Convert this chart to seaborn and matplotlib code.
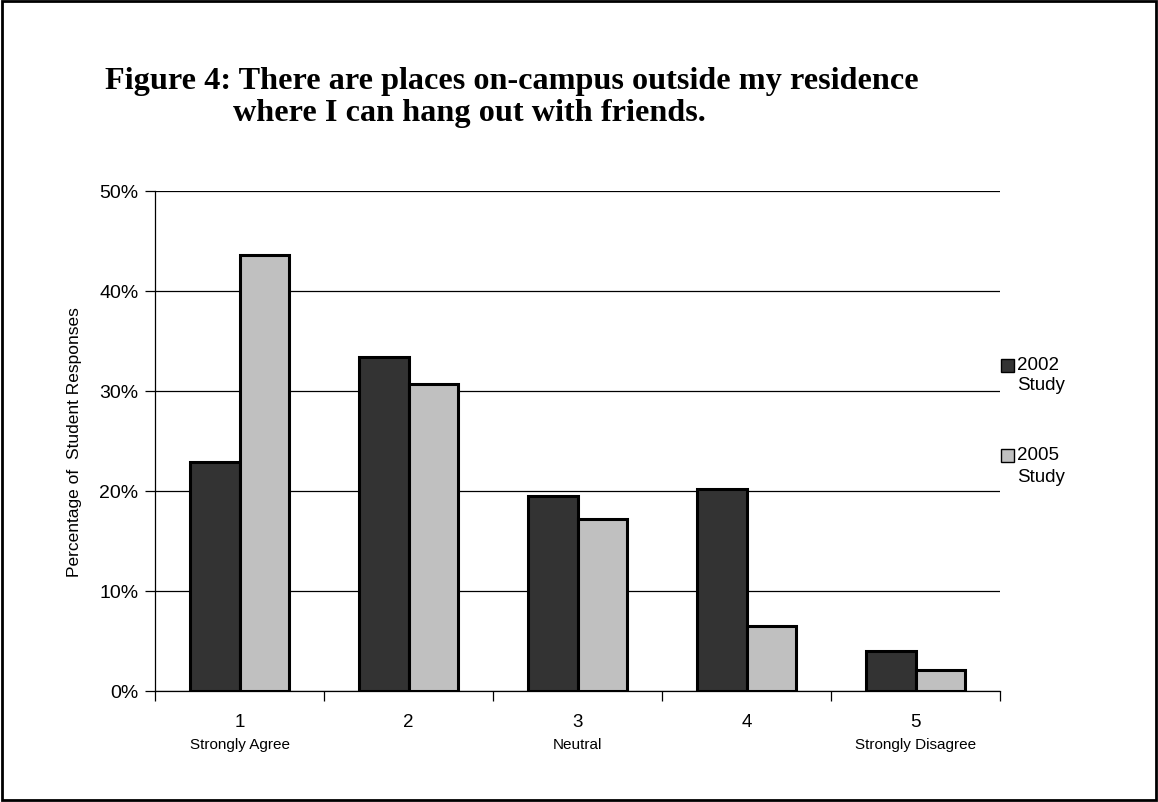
import pandas as pd
import seaborn as sns
import matplotlib.pyplot as plt
from matplotlib.patches import Rectangle
from matplotlib.ticker import FixedLocator, PercentFormatter
import matplotlib.transforms as mtransforms

# Survey data (percent of student responses)
ratings = ['1', '2', '3', '4', '5']
rating_notes = ['Strongly Agree', '', 'Neutral', '', 'Strongly Disagree']
study_2002 = [22.9, 33.4, 19.5, 20.2, 4.0]
study_2005 = [43.6, 30.7, 17.2, 6.5, 2.1]
studies = ['2002', '2005']
study_colors = {'2002': '#333333', '2005': '#c0c0c0'}
y_ticks = [0, 10, 20, 30, 40, 50]

df = pd.DataFrame({
    'Rating': ratings * 2,
    'Study': ['2002'] * len(ratings) + ['2005'] * len(ratings),
    'Percent': study_2002 + study_2005,
})

sns.set_style('white')
plt.rcParams['font.family'] = ['Liberation Sans', 'DejaVu Sans']
for key in ['text.color', 'axes.labelcolor', 'xtick.color', 'ytick.color']:
    plt.rcParams[key] = 'black'

fig = plt.figure(figsize=(11.58, 8.03), dpi=100)
ax = fig.add_axes([155 / 1158, 1 - 692 / 803, 845 / 1158, 500 / 803])

sns.barplot(data=df, x='Rating', y='Percent', hue='Study', hue_order=studies,
            palette=study_colors, width=0.585, edgecolor='black', linewidth=2.2,
            saturation=1, legend=False, ax=ax, zorder=3)

ax.set_ylim(0, 50)
ax.set_xlim(-0.5, len(ratings) - 0.5)
ax.yaxis.set_major_locator(FixedLocator(y_ticks))
ax.yaxis.set_major_formatter(PercentFormatter(decimals=0))
ax.grid(axis='y', color='black', linewidth=0.9, zorder=0)
ax.grid(axis='x', visible=False)

for side in ['top', 'right']:
    ax.spines[side].set_visible(False)
for side in ['left', 'bottom']:
    ax.spines[side].set_color('black')
    ax.spines[side].set_linewidth(0.9)

ax.tick_params(axis='y', which='major', direction='out', length=7, width=0.9,
               color='black', labelsize=14, pad=5, left=True)
ax.tick_params(axis='x', which='major', length=0, labelsize=13.5, pad=16)
ax.set_xticks([i - 0.5 for i in range(len(ratings) + 1)], minor=True)
ax.tick_params(axis='x', which='minor', direction='out', length=7, width=0.9,
               color='black', bottom=True)

ax.set_xlabel('')
ax.set_ylabel('Percentage of  Student Responses', fontsize=12.5, labelpad=12)

# small descriptions under the rating numbers
trans = mtransforms.blended_transform_factory(ax.transData, ax.transAxes)
for i, note in enumerate(rating_notes):
    if note:
        ax.text(i, -0.106, note, transform=trans, ha='center', va='center',
                fontsize=11)

# legend drawn at the right of the plot
legend_rows = [(366, 386), (456, 478)]
for study, (y1, y2) in zip(studies, legend_rows):
    fig.patches.append(Rectangle((1001 / 1158, 1 - (y1 + 6.5) / 803), 13 / 1158, 13 / 803,
                                 transform=fig.transFigure, facecolor=study_colors[study],
                                 edgecolor='black', linewidth=1))
    fig.text(1017 / 1158, 1 - y1 / 803, study, fontsize=13.5, va='center', ha='left')
    fig.text(1017 / 1158, 1 - y2 / 803, 'Study', fontsize=13.5, va='center', ha='left')

title_font = dict(family=['Liberation Serif', 'DejaVu Serif'], fontsize=23.2,
                  fontweight='bold', va='center', ha='left', color='black')
fig.text(105 / 1158, 1 - 82 / 803,
         'Figure 4: There are places on-campus outside my residence', **title_font)
fig.text(233 / 1158, 1 - 114 / 803, 'where I can hang out with friends.', **title_font)

# frame round the whole figure
fig.patches.append(Rectangle((2 / 1158, 2 / 803), 1 - 4 / 1158, 1 - 4 / 803,
                             transform=fig.transFigure, fill=False,
                             edgecolor='black', linewidth=2))

fig.savefig('out.png', dpi=100)
